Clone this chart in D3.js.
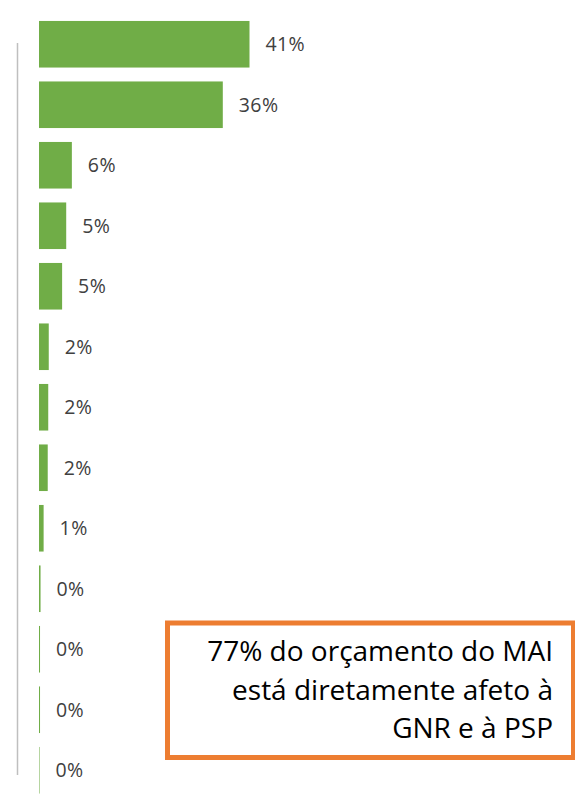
<!DOCTYPE html>
<html>
<head>
	<meta charset="utf-8">
	<title>Orçamento MAI</title>
	<script src="https://d3js.org/d3.v7.min.js"></script>
	<style>
		body { margin: 0; background: #fff; }
		.bar { fill: #70ad47; }
		.value { fill: #404040; font-family: "Open Sans", sans-serif; font-size: 19.5px; letter-spacing: 0.4px; }
		.note { fill: #000; font-family: "Open Sans", sans-serif; font-size: 28px; }
	</style>
</head>
<body>
<svg width="575" height="795"></svg>

<script type="text/javascript">
var width = 575, height = 795;

// category names are not shown in the picture
var categories = ["c1", "c2", "c3", "c4", "c5", "c6", "c7", "c8", "c9", "c10", "c11", "c12", "c13"];
var values = [41, 35.8, 6.4, 5.3, 4.5, 1.9, 1.8, 1.7, 0.9, 0.3, 0.2, 0.2, 0.1];
var valueLabels = ["41%", "36%", "6%", "5%", "5%", "2%", "2%", "2%", "1%", "0%", "0%", "0%", "0%"];
var noteLines = ["77% do orçamento do MAI", "está diretamente afeto à", "GNR e à PSP"];

var svg = d3.select('svg');

var x = d3.scaleLinear()
	.domain([0, 41])
	.range([39, 249.5]);

var y = d3.scaleBand()
	.domain(categories)
	.range([14, 14 + 13 * 60.5])
	.paddingInner(0.23)
	.paddingOuter(0.115);

// vertical axis line
svg.append('line')
	.attr('x1', 17.5).attr('x2', 17.5)
	.attr('y1', 43).attr('y2', 775)
	.attr('stroke', '#bfbfbf')
	.attr('stroke-width', 1.5);

svg.selectAll('rect.bar')
	.data(values)
	.enter()
	.append('rect')
	.attr('class', 'bar')
	.attr('x', x(0))
	.attr('y', function(d, i) { return y(categories[i]); })
	.attr('width', function(d) { return x(d) - x(0); })
	.attr('height', y.bandwidth());

svg.selectAll('text.value')
	.data(values)
	.enter()
	.append('text')
	.attr('class', 'value')
	.attr('x', function(d) { return x(d) + 16; })
	.attr('y', function(d, i) { return y(categories[i]) + y.bandwidth() / 2; })
	.attr('dy', '0.36em')
	.text(function(d, i) { return valueLabels[i]; });

// annotation box
svg.append('rect')
	.attr('x', 167.5)
	.attr('y', 623)
	.attr('width', 406)
	.attr('height', 134.5)
	.attr('fill', 'none')
	.attr('stroke', '#ed7d31')
	.attr('stroke-width', 5);

svg.selectAll('text.note')
	.data(noteLines)
	.enter()
	.append('text')
	.attr('class', 'note')
	.attr('text-anchor', 'end')
	.attr('x', 553)
	.attr('y', function(d, i) { return 661 + i * 38.5; })
	.text(function(d) { return d; });
</script>
</body>
</html>
